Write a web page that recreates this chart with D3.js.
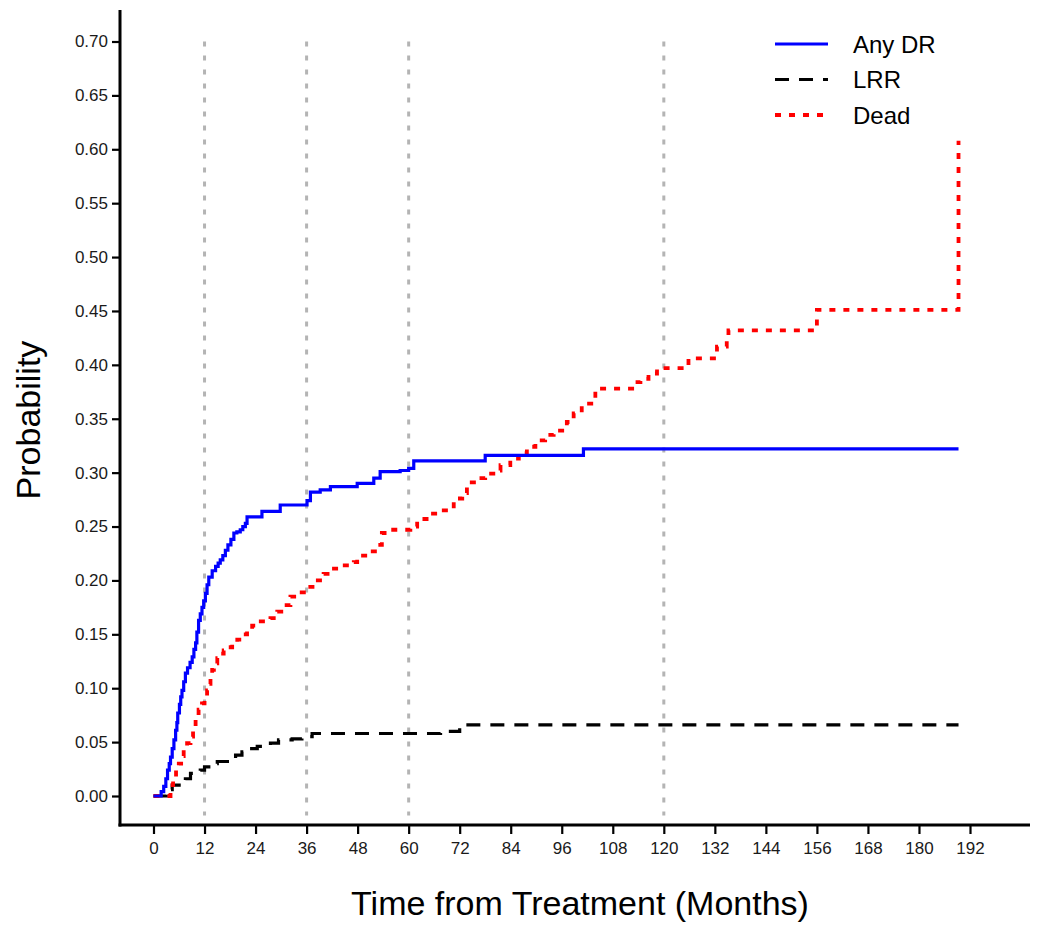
<!DOCTYPE html>
<html>
<head>
<meta charset="utf-8">
<script src="https://cdn.jsdelivr.net/npm/d3@7"></script>
<style>
  body { margin: 0; background: #fff; }
  svg text { font-family: "Liberation Sans", Arial, sans-serif; }
</style>
</head>
<body>
<svg id="chart" width="1050" height="935"></svg>
<script>
// months / cumulative incidence
let anyDrMonths = [0, 1.25, 1.8, 2.4, 2.9, 3.3, 3.7, 4.0, 4.4, 4.8, 5.2, 5.5, 5.7, 6.1, 6.4, 6.7, 7.1, 7.5, 8.0, 8.6, 9.1, 9.5, 9.9, 10.2, 10.6, 11.0, 11.4, 11.8, 12.2, 12.6, 13.0, 13.8, 14.6, 15.2, 15.7, 16.3, 16.9, 17.5, 18.2, 18.9, 19.6, 20.4, 21.0, 21.6, 22.0, 25.5, 29.8, 36.1, 36.9, 39.2, 41.6, 47.9, 51.8, 53.3, 58.0, 60.0, 61.2, 78.0, 101.1, 189.3];
let anyDrProb = [0, 0, 0.004, 0.009, 0.016, 0.024, 0.030, 0.036, 0.044, 0.052, 0.061, 0.068, 0.077, 0.085, 0.092, 0.098, 0.106, 0.114, 0.119, 0.124, 0.129, 0.136, 0.142, 0.152, 0.163, 0.169, 0.175, 0.181, 0.188, 0.196, 0.203, 0.209, 0.213, 0.216, 0.219, 0.223, 0.228, 0.233, 0.238, 0.244, 0.245, 0.247, 0.250, 0.253, 0.259, 0.264, 0.270, 0.274, 0.282, 0.284, 0.287, 0.290, 0.295, 0.301, 0.302, 0.304, 0.311, 0.316, 0.322, 0.322];

let lrrMonths = [0, 2.4, 3.0, 3.5, 4.4, 6.7, 7.5, 8.7, 11.0, 12.0, 13.0, 15.0, 18.1, 19.3, 20.8, 22.4, 24.4, 27.5, 29.4, 32.6, 34.9, 37.3, 67.5, 72.0, 189.3];
let lrrProb = [0, 0, 0.003, 0.006, 0.010, 0.012, 0.016, 0.021, 0.024, 0.027, 0.030, 0.032, 0.035, 0.038, 0.041, 0.044, 0.046, 0.049, 0.052, 0.053, 0.055, 0.058, 0.060, 0.066, 0.066];

let deadMonths = [0, 3.6, 4.0, 4.6, 5.3, 5.95, 6.5, 7.1, 7.9, 8.7, 9.3, 9.9, 10.6, 11.4, 12.0, 12.6, 13.0, 13.4, 13.8, 14.2, 15.0, 15.7, 16.5, 17.3, 18.5, 19.7, 20.8, 22.0, 23.2, 24.4, 27.5, 29.1, 30.6, 32.2, 33.8, 36.1, 38.1, 40.0, 41.6, 43.9, 47.1, 47.9, 51.0, 52.6, 53.7, 55.3, 60.4, 62.0, 64.7, 67.1, 70.6, 72.6, 73.7, 76.1, 78.0, 80.4, 81.6, 83.9, 85.9, 87.8, 89.8, 92.1, 94.1, 97.2, 98.8, 100.7, 103.9, 113.3, 114.5, 116.4, 118.4, 125.8, 132.5, 134.8, 135.2, 156.0, 189.3];
let deadProb = [0, 0, 0.010, 0.017, 0.024, 0.030, 0.037, 0.043, 0.049, 0.055, 0.064, 0.074, 0.080, 0.086, 0.092, 0.098, 0.104, 0.111, 0.117, 0.123, 0.128, 0.132, 0.135, 0.138, 0.141, 0.145, 0.150, 0.154, 0.158, 0.162, 0.165, 0.171, 0.177, 0.185, 0.189, 0.194, 0.200, 0.206, 0.211, 0.214, 0.217, 0.223, 0.227, 0.233, 0.244, 0.247, 0.250, 0.257, 0.262, 0.265, 0.276, 0.281, 0.291, 0.295, 0.299, 0.302, 0.307, 0.313, 0.318, 0.324, 0.330, 0.335, 0.339, 0.347, 0.355, 0.364, 0.378, 0.384, 0.387, 0.392, 0.397, 0.406, 0.417, 0.423, 0.432, 0.451, 0.608];

let refMonths = [12, 36, 60, 120];
let xTicks = d3.range(0, 193, 12);
let yTicks = d3.range(0, 0.7001, 0.05);

let seriesNames = ["Any DR", "LRR", "Dead"];

let svg = d3.select("#chart");

let x = d3.scaleLinear().domain([0, 192]).range([153.5, 970]);
let y = d3.scaleLinear().domain([0, 0.7]).range([796, 41.5]);

let panel = {left: 120, right: 1030, top: 10, bottom: 825};

// reference lines
svg.append("g").selectAll("line")
  .data(refMonths)
  .join("line")
  .attr("x1", d => x(d)).attr("x2", d => x(d))
  .attr("y1", y(0.70)).attr("y2", y(-0.018))
  .attr("stroke", "#b4b4b4")
  .attr("stroke-width", 3)
  .attr("stroke-dasharray", "5,9");

let styles = [
  {color: "#0000ff", dash: null, width: 3.2},
  {color: "#000000", dash: "14,10", width: 3.2},
  {color: "#ff0000", dash: "6,8", width: 3.8}
];

let series = [
  d3.zip(anyDrMonths, anyDrProb),
  d3.zip(lrrMonths, lrrProb),
  d3.zip(deadMonths, deadProb)
];

let line = d3.line()
  .x(d => x(d[0]))
  .y(d => y(d[1]))
  .curve(d3.curveStepAfter);

// draw in order: LRR, Dead, Any DR on top
[1, 2, 0].forEach(i => {
  svg.append("path")
    .datum(series[i])
    .attr("d", line)
    .attr("fill", "none")
    .attr("stroke", styles[i].color)
    .attr("stroke-width", styles[i].width)
    .attr("stroke-dasharray", styles[i].dash);
});

// axes
let xAxis = svg.append("g")
  .attr("transform", `translate(0,${panel.bottom})`)
  .call(d3.axisBottom(x).tickValues(xTicks).tickSize(9).tickPadding(8).tickFormat(d3.format("d")));
let yAxis = svg.append("g")
  .attr("transform", `translate(${panel.left},0)`)
  .call(d3.axisLeft(y).tickValues(yTicks).tickSize(8).tickPadding(4).tickFormat(d3.format(".2f")));

[xAxis, yAxis].forEach(g => {
  g.select(".domain").remove();
  g.selectAll(".tick line").attr("stroke", "#000").attr("stroke-width", 2.2);
  g.selectAll(".tick text").attr("fill", "#1a1a1a").style("font-size", "17px");
});

svg.append("line")
  .attr("x1", panel.left - 1.5).attr("x2", panel.right)
  .attr("y1", panel.bottom).attr("y2", panel.bottom)
  .attr("stroke", "#000").attr("stroke-width", 3);
svg.append("line")
  .attr("x1", panel.left).attr("x2", panel.left)
  .attr("y1", panel.top).attr("y2", panel.bottom + 1.5)
  .attr("stroke", "#000").attr("stroke-width", 3);

// axis titles
svg.append("text")
  .attr("x", 580).attr("y", 915)
  .attr("text-anchor", "middle")
  .style("font-size", "34px")
  .attr("fill", "#000")
  .text("Time from Treatment (Months)");

svg.append("text")
  .attr("transform", "translate(40,420) rotate(-90)")
  .attr("text-anchor", "middle")
  .style("font-size", "34px")
  .attr("fill", "#000")
  .text("Probability");

// legend
let legend = svg.append("g").attr("transform", "translate(775,44)");
seriesNames.forEach((name, i) => {
  let row = legend.append("g").attr("transform", `translate(0,${i * 35.5})`);
  row.append("line")
    .attr("x1", 0).attr("x2", i === 2 ? 48 : 53)
    .attr("stroke", styles[i].color)
    .attr("stroke-width", styles[i].width)
    .attr("stroke-dasharray", styles[i].dash);
  row.append("text")
    .attr("x", 78).attr("y", 0)
    .attr("dy", "0.36em")
    .style("font-size", "24px")
    .attr("fill", "#000")
    .text(name);
});
</script>
</body>
</html>
